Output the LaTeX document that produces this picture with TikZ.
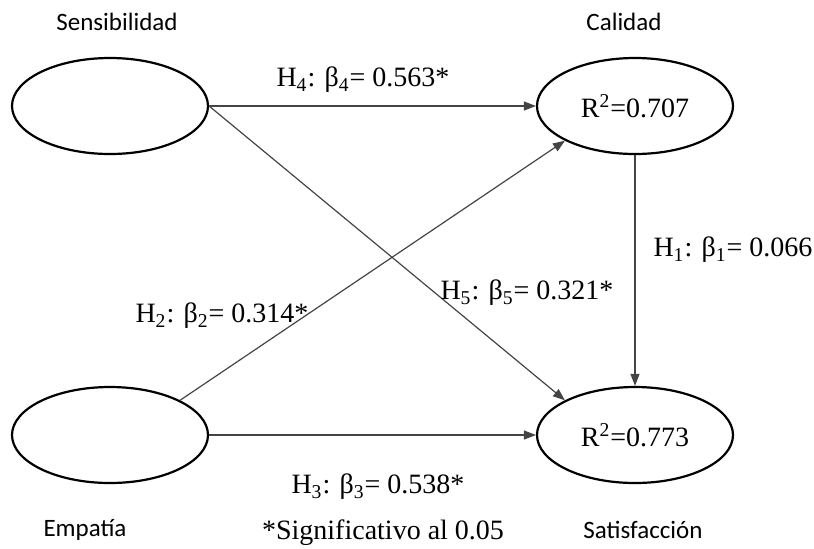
\documentclass[tikz,border=0pt]{standalone}
\usepackage{fontspec}
\setmainfont{Liberation Serif}
\newfontfamily\varfont{Carlito}
\usepackage{tikz}
\usetikzlibrary{arrows.meta,shapes.geometric}
\definecolor{LineGray}{HTML}{444444}

\begin{document}
\begin{tikzpicture}[
    x=0.5pt, y=-0.5pt,
    latent/.style={ellipse, draw=black, line width=1.1pt, minimum width=98pt,
      minimum height=48pt, inner sep=0pt, font=\fontsize{14}{16}\selectfont},
    arr/.style={-{Triangle[length=6pt,width=4.5pt]}, line width=0.6pt, draw=LineGray},
    varname/.style={font=\varfont\fontsize{12.5}{14}\selectfont},
    coef/.style={font=\fontsize{14}{16}\selectfont}
  ]
    \useasboundingbox (0,0) rectangle (814,548);

    \node[latent] (sens) at (110,106) {};
    \node[latent] (cal) at (635,106) {R\textsuperscript{2}=0.707};
    \node[latent] (emp) at (110,435) {};
    \node[latent] (sat) at (635,435) {R\textsuperscript{2}=0.773};

    \node[varname] (lsens) at (117,22) {Sensibilidad};
    \node[varname] (lcal) at (624,22) {Calidad};
    \node[varname] (lemp) at (85,530) {Empatía};
    \node[varname] (lsat) at (643,530) {Satisfacción};

    \draw[arr] (sens) -- (cal);
    \draw[arr] (emp) -- (sat);
    \draw[arr] (cal) -- (sat);
    \draw[arr] (sens.east) -- (sat.north west);
    \draw[arr] (emp.north east) -- (cal.south west);

    \node[coef] (h4) at (363,80) {H\textsubscript{4}: β\textsubscript{4}= 0.563*};
    \node[coef] (h1) at (733,250) {H\textsubscript{1}: β\textsubscript{1}= 0.066};
    \node[coef] (h5) at (527,293) {H\textsubscript{5}: β\textsubscript{5}= 0.321*};
    \node[coef] (h2) at (222,316) {H\textsubscript{2}: β\textsubscript{2}= 0.314*};
    \node[coef] (h3) at (378,487) {H\textsubscript{3}: β\textsubscript{3}= 0.538*};
    \node[coef] (note) at (383,533) {*Significativo al 0.05};
  \end{tikzpicture}
\end{document}
